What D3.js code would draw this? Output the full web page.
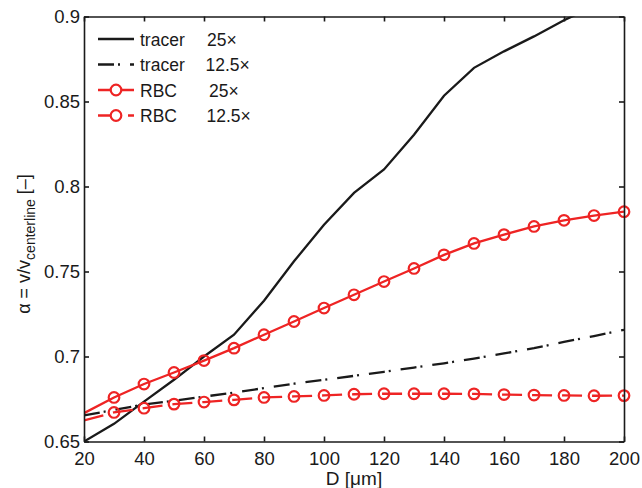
<!DOCTYPE html>
<html>
<head>
<meta charset="utf-8">
<script src="https://cdn.jsdelivr.net/npm/d3@7"></script>
<style>
  body { margin: 0; background: #fff; }
  svg { font-family: "Liberation Sans", Arial, Helvetica, sans-serif; }
</style>
</head>
<body>
<div id="chart"></div>
<script>
// channel diameters D [um]
var diam = [20, 30, 40, 50, 60, 70, 80, 90, 100, 110, 120, 130, 140, 150, 160, 170, 180, 190, 200];

// alpha = v / v_centerline
var tracer25 = [0.650, 0.6604, 0.6735, 0.6863, 0.700, 0.7128, 0.7328, 0.7560, 0.7775, 0.7962, 0.8100, 0.8304, 0.8534, 0.8698, 0.8795, 0.8883, 0.8978, 0.906, 0.913];
var tracer125 = [0.6653, 0.6686, 0.6718, 0.6740, 0.6764, 0.6788, 0.6814, 0.6840, 0.6863, 0.6886, 0.6910, 0.6935, 0.6960, 0.6988, 0.7018, 0.7049, 0.7086, 0.7120, 0.7157];
var rbc25 = [0.6667, 0.6759, 0.6838, 0.6906, 0.6976, 0.7049, 0.7128, 0.7206, 0.7285, 0.7363, 0.7441, 0.7518, 0.7598, 0.7665, 0.7717, 0.7765, 0.7801, 0.7829, 0.7852];
var rbc125 = [0.6624, 0.6671, 0.6696, 0.6720, 0.6732, 0.6745, 0.6759, 0.6765, 0.6771, 0.6778, 0.6781, 0.6781, 0.6781, 0.6780, 0.6776, 0.6773, 0.6771, 0.6769, 0.6770];

var xTicks = [20, 40, 60, 80, 100, 120, 140, 160, 180, 200];
var yTicks = [0.65, 0.7, 0.75, 0.8, 0.85, 0.9];

var series = [
    {name: "tracer", mag: "25\u00d7", values: tracer25, color: "#1a1a1a", dash: null, marker: false},
    {name: "tracer", mag: "12.5\u00d7", values: tracer125, color: "#1a1a1a", dash: "16,4,2,10", marker: false},
    {name: "RBC", mag: "25\u00d7", values: rbc25, color: "#ee2424", dash: null, marker: true},
    {name: "RBC", mag: "12.5\u00d7", values: rbc125, color: "#ee2424", dash: "20,10", marker: true}
];

var width = 642, height = 488;
var margin = {top: 16.5, right: 18, bottom: 46.5, left: 84};
var w = width - margin.left - margin.right;
var h = height - margin.top - margin.bottom;

var svg = d3.select("#chart").append("svg")
    .attr("width", width)
    .attr("height", height);

var g = svg.append("g")
    .attr("transform", "translate(" + margin.left + "," + margin.top + ")");

var x = d3.scaleLinear().domain([20, 200]).range([0, w]);
var y = d3.scaleLinear().domain([0.65, 0.9]).range([h, 0]);

g.append("defs").append("clipPath")
    .attr("id", "clip")
    .append("rect")
    .attr("width", w)
    .attr("height", h);

var line = d3.line()
    .x(function(d, i){ return x(diam[i]); })
    .y(function(d){ return y(d); });

var plot = g.append("g").attr("clip-path", "url(#clip)");

series.forEach(function(s){
    plot.append("path")
        .attr("d", line(s.values))
        .attr("fill", "none")
        .attr("stroke", s.color)
        .attr("stroke-width", 2.3)
        .attr("stroke-dasharray", s.dash);
});

// circle markers (the one at D = 20 sits under the axis)
series.filter(function(s){ return s.marker; }).forEach(function(s){
    g.selectAll(null)
        .data(s.values.map(function(v, i){ return {d: diam[i], v: v}; }).filter(function(p){ return p.d > 20; }))
        .enter().append("circle")
        .attr("cx", function(p){ return x(p.d); })
        .attr("cy", function(p){ return y(p.v); })
        .attr("r", 5.3)
        .attr("fill", "none")
        .attr("stroke", s.color)
        .attr("stroke-width", 2.2);
});

// axes, MATLAB style: inward ticks on all four sides
var tickLen = 5;
g.append("g")
    .attr("transform", "translate(0," + h + ")")
    .call(d3.axisBottom(x).tickValues(xTicks).tickSizeInner(-tickLen).tickSizeOuter(0).tickPadding(10).tickFormat(d3.format("d")));
g.append("g")
    .call(d3.axisTop(x).tickValues(xTicks).tickSizeInner(-tickLen).tickSizeOuter(0).tickFormat(""));
g.append("g")
    .call(d3.axisLeft(y).tickValues(yTicks).tickSizeInner(-tickLen).tickSizeOuter(0).tickPadding(4).tickFormat(function(d){ return String(+d.toFixed(2)); }));
g.append("g")
    .attr("transform", "translate(" + w + ",0)")
    .call(d3.axisRight(y).tickValues(yTicks).tickSizeInner(-tickLen).tickSizeOuter(0).tickFormat(""));

g.selectAll(".domain, .tick line")
    .attr("stroke", "#1a1a1a")
    .attr("stroke-width", 1.6);
g.selectAll(".tick text")
    .attr("fill", "#1a1a1a")
    .style("font-size", "18.5px");

// axis labels
svg.append("text")
    .attr("x", margin.left + w / 2)
    .attr("y", 485)
    .attr("text-anchor", "middle")
    .attr("fill", "#1a1a1a")
    .style("font-size", "19px")
    .text("D [\u03bcm]");

var yl = svg.append("text")
    .attr("transform", "translate(30," + 244 + ") rotate(-90)")
    .attr("text-anchor", "middle")
    .attr("fill", "#1a1a1a")
    .style("font-size", "18px");
yl.append("tspan").text("\u03b1 = v/v");
yl.append("tspan").attr("dy", 5).style("font-size", "14px").text("centerline");
yl.append("tspan").attr("dy", -5).text(" [\u2013]");

// legend
var legend = svg.append("g");
var rowY = [39, 64.5, 90, 115.5];
var magX = [207, 205.5, 209, 206.5];
series.forEach(function(s, i){
    var row = legend.append("g").attr("transform", "translate(0," + rowY[i] + ")");
    row.append("line")
        .attr("x1", 98).attr("x2", 134)
        .attr("stroke", s.color)
        .attr("stroke-width", 2.3)
        .attr("stroke-dasharray", s.dash);
    if (s.marker) {
        row.append("circle")
            .attr("cx", 116).attr("r", 5.3)
            .attr("fill", "#fff")
            .attr("stroke", s.color)
            .attr("stroke-width", 2.2);
    }
    row.append("text")
        .attr("x", 140).attr("y", 6.5)
        .attr("fill", "#1a1a1a")
        .style("font-size", "17.5px")
        .text(s.name);
    row.append("text")
        .attr("x", magX[i]).attr("y", 6.5)
        .attr("fill", "#1a1a1a")
        .style("font-size", "17.5px")
        .text(s.mag);
});
</script>
</body>
</html>
